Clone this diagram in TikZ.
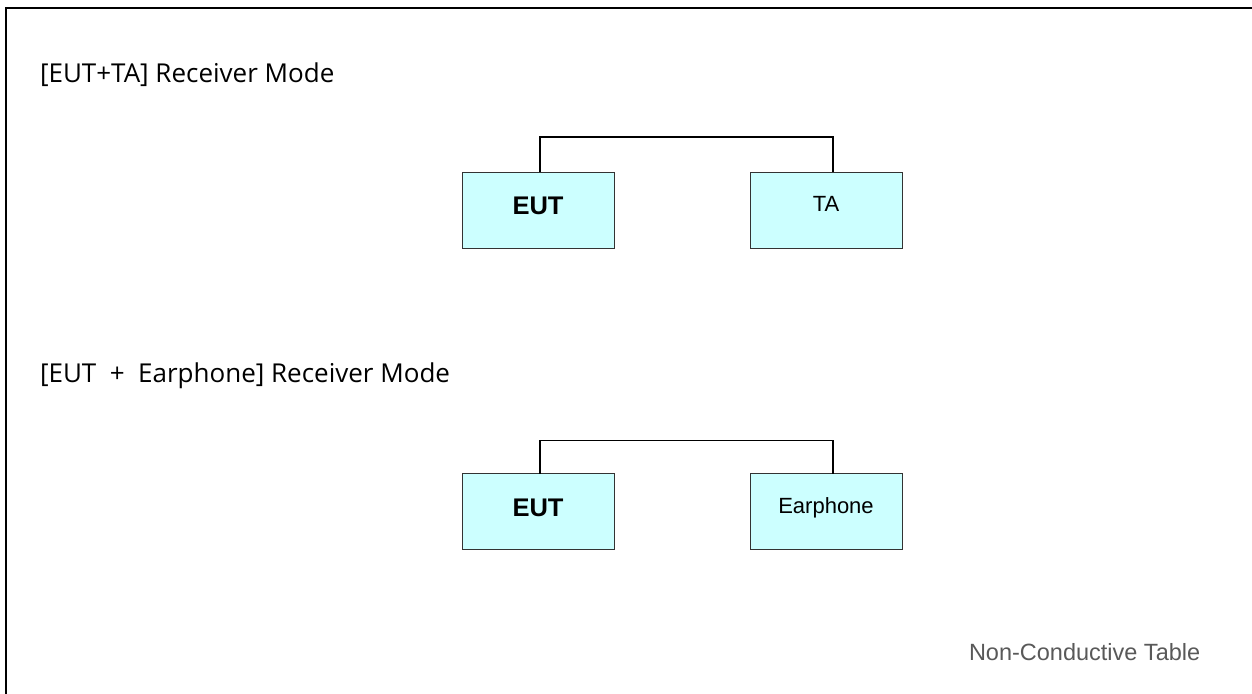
\documentclass[tikz,border=0pt]{standalone}
\usepackage{fontspec}
\setmainfont{Open Sans}
\newfontfamily\boxfont{Liberation Sans}
\usepackage{tikz}
\definecolor{boxcyan}{HTML}{CCFFFF}
\definecolor{tablegray}{HTML}{595959}

\begin{document}
\begin{tikzpicture}[x=1pt, y=-1pt,
  every node/.style={outer sep=0pt},
  unit/.style={draw=black!80, fill=boxcyan, line width=0.9pt, minimum width=152pt, minimum height=76pt, inner sep=0pt},
  tag/.style={font=\boxfont\fontsize{22}{24}\selectfont, anchor=base, inner sep=0pt},
  eut/.style={font=\boxfont\bfseries\fontsize{25.5}{28}\selectfont, anchor=base, inner sep=0pt},
  mode/.style={font=\fontsize{26}{28}\selectfont, anchor=base west, inner sep=0pt},
  cable/.style={draw=black, line width=1.4pt}]
\useasboundingbox (0,0) rectangle (1252,693);
\draw[line width=2pt] (6,694) -- (6,8) -- (1253,8);

% first setup
\node[mode] (title1) at (40,82) {[EUT+TA] Receiver Mode};
\node[unit] (eut1) at (538,210) {};
\node[unit] (ta) at (826,210) {};
\node[eut] (eutlbl1) at ([yshift=-4]eut1.center) {EUT};
\node[tag] (talbl) at ([yshift=-1]ta.center) {TA};
\draw[cable] ([xshift=2]eut1.north) -- ++(0,-35) -| ([xshift=7]ta.north);

% second setup
\node[mode] (title2) at (40,382) {[EUT\ \ +\ \ Earphone]\ Receiver Mode};
\node[unit] (eut2) at (538,511.5) {};
\node[unit] (ear) at (826,511.5) {};
\node[eut] (eutlbl2) at ([yshift=-5]eut2.center) {EUT};
\node[tag] (earlbl) at ([yshift=-1.5]ear.center) {Earphone};
\draw[cable] ([xshift=2]eut2.north) -- ++(0,-33) -| ([xshift=7]ear.north);

\node[font=\boxfont\fontsize{23.5}{26}\selectfont, text=tablegray, anchor=base west, inner sep=0pt] (table) at (969,660) {Non-Conductive Table};
\end{tikzpicture}
\end{document}
